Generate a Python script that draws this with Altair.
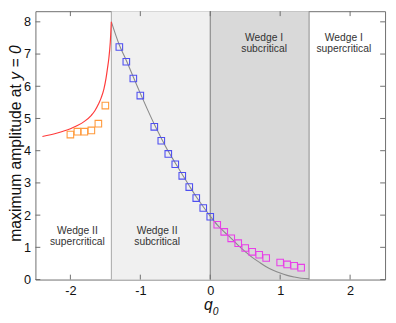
import altair as alt
import pandas as pd

# ---------------- data ----------------
orange_q = [-2.0, -1.9, -1.8, -1.7, -1.6, -1.5]
orange_a = [4.50, 4.59, 4.59, 4.63, 4.84, 5.40]

blue_q = [-1.3, -1.2, -1.1, -1.0, -0.8, -0.7, -0.6, -0.5, -0.4, -0.3, -0.2, -0.1, 0.0]
blue_a = [7.22, 6.76, 6.24, 5.71, 4.74, 4.31, 3.90, 3.58, 3.22, 2.87, 2.53, 2.22, 1.95]

magenta_q = [0.1, 0.2, 0.3, 0.4, 0.5, 0.6, 0.7, 0.8, 1.0, 1.1, 1.2, 1.3]
magenta_a = [1.70, 1.48, 1.28, 1.13, 0.98, 0.86, 0.77, 0.67, 0.53, 0.47, 0.43, 0.37]

red_q = [-2.4, -2.2, -2.0, -1.9, -1.8, -1.7, -1.65, -1.6, -1.56, -1.52, -1.49, -1.47, -1.45, -1.43, -1.414]
red_a = [4.44, 4.54, 4.68, 4.78, 4.91, 5.10, 5.24, 5.44, 5.64, 5.92, 6.25, 6.55, 6.87, 7.35, 8.0]

gray_q = [-1.414, -1.3, -1.2, -1.1, -1.0, -0.9, -0.8, -0.7, -0.6, -0.5, -0.4, -0.3, -0.2, -0.1, 0.0,
          0.1, 0.2, 0.3, 0.4, 0.5, 0.6, 0.7, 0.8, 0.9, 1.0, 1.1, 1.2, 1.3, 1.414]
gray_a = [8.0, 7.28, 6.80, 6.29, 5.78, 5.29, 4.82, 4.39, 3.98, 3.62, 3.26, 2.91, 2.57, 2.26, 1.97,
          1.70, 1.48, 1.28, 1.06, 0.87, 0.69, 0.54, 0.40, 0.29, 0.20, 0.13, 0.08, 0.04, 0.02]

region_start = [-1.414, 0.0]
region_end = [0.0, 1.414]
region_fill = ["#f0f0f0", "#d9d9d9"]

boundary_q = [-1.414, 0.0, 1.414]
boundary_color = ["#a6a6a6", "#7a7a7a", "#8c8c8c"]

label_text = ["Wedge II\nsupercritical", "Wedge II\nsubcritical", "Wedge I\nsubcritical", "Wedge I\nsupercritical"]
label_q = [-1.9, -0.76, 0.77, 1.91]
label_a = [1.51, 1.51, 7.50, 7.50]

x_ticks = [-2, -1, 0, 1, 2]
y_ticks = [0, 1, 2, 3, 4, 5, 6, 7, 8]

# ---------------- layout ----------------
W, H = 357, 274
FONT = "Liberation Sans"
TICK_COLOR = "#6e6e6e"

xs = alt.Scale(domain=[-2.5, 2.5], nice=False, zero=False)
ys = alt.Scale(domain=[0, 8.33], nice=False, zero=False)

x_axis = alt.Axis(values=x_ticks, title=None, grid=False, domain=False, ticks=False, tickSize=0,
                  labelPadding=5, labelFont=FONT, labelFontSize=13, labelColor="#111",
                  labelOverlap=False, labelExpr="'' + datum.value")
y_axis = alt.Axis(values=y_ticks, title=None, grid=False, domain=False, ticks=False, tickSize=0,
                  labelPadding=5, labelFont=FONT, labelFontSize=13, labelColor="#111",
                  labelOverlap=False, labelExpr="'' + datum.value")


def X(f):
    return alt.X(f, scale=xs, axis=x_axis)


def Y(f):
    return alt.Y(f, scale=ys, axis=y_axis)


regions = pd.DataFrame({"q0": region_start, "q1": region_end, "fill": region_fill,
                        "a0": [0, 0], "a1": [8.33, 8.33]})
bounds = pd.DataFrame({"q": boundary_q, "c": boundary_color})
red = pd.DataFrame({"q": red_q, "a": red_a})
gray = pd.DataFrame({"q": gray_q, "a": gray_a})
orange = pd.DataFrame({"q": orange_q, "a": orange_a})
blue = pd.DataFrame({"q": blue_q, "a": blue_a})
magenta = pd.DataFrame({"q": magenta_q, "a": magenta_a})
labels = pd.DataFrame({"q": label_q, "a": label_a, "t": label_text})
xt = pd.DataFrame({"q": x_ticks})
yt = pd.DataFrame({"a": y_ticks})
one = pd.DataFrame({"k": [0]})

rect = alt.Chart(regions).mark_rect().encode(
    x=X("q0:Q"), x2="q1:Q", y=Y("a0:Q"), y2="a1:Q",
    color=alt.Color("fill:N", scale=None),
)

brules = alt.Chart(bounds).mark_rule(strokeWidth=1).encode(
    x=X("q:Q"), color=alt.Color("c:N", scale=None)
)

red_line = alt.Chart(red).mark_line(color="#ff3b3b", strokeWidth=1.2, interpolate="monotone").encode(
    x=X("q:Q"), y=Y("a:Q")
)
gray_line = alt.Chart(gray).mark_line(color="#8a8a8a", strokeWidth=1.1, interpolate="monotone").encode(
    x=X("q:Q"), y=Y("a:Q")
)


def squares(df, col):
    return alt.Chart(df).mark_point(shape="square", filled=False, size=45, strokeWidth=1.1,
                                    color=col, opacity=1).encode(x=X("q:Q"), y=Y("a:Q"))


texts = alt.Chart(labels).mark_text(font=FONT, fontSize=10.5, color="#333", lineBreak="\n",
                                    lineHeight=11, baseline="middle", align="center").encode(
    x=X("q:Q"), y=Y("a:Q"), text="t:N"
)

tick_bottom = alt.Chart(xt).mark_rule(color=TICK_COLOR).encode(
    x=X("q:Q"), y=alt.value(H), y2=alt.value(H - 5))
tick_top = alt.Chart(xt).mark_rule(color=TICK_COLOR).encode(
    x=X("q:Q"), y=alt.value(0), y2=alt.value(5))
tick_left = alt.Chart(yt).mark_rule(color=TICK_COLOR).encode(
    y=Y("a:Q"), x=alt.value(0), x2=alt.value(5))
tick_right = alt.Chart(yt).mark_rule(color=TICK_COLOR).encode(
    y=Y("a:Q"), x=alt.value(W), x2=alt.value(W - 5))

ytitle1 = alt.Chart(one).mark_text(text="maximum amplitude at", font=FONT, fontSize=16, angle=270,
                                   align="right", baseline="alphabetic", color="#111").encode(
    x=alt.value(-15), y=alt.value(74.5))
ytitle2 = alt.Chart(one).mark_text(text="y = 0", font=FONT, fontSize=16, fontStyle="italic", angle=270,
                                   align="left", baseline="alphabetic", color="#111").encode(
    x=alt.value(-15), y=alt.value(70))
xtitle_q = alt.Chart(one).mark_text(text="q", font=FONT, fontSize=16, fontStyle="italic",
                                    align="center", baseline="alphabetic", color="#111").encode(
    x=alt.value(176.5), y=alt.value(305))
xtitle_0 = alt.Chart(one).mark_text(text="0", font=FONT, fontSize=10.5, fontStyle="italic",
                                    align="center", baseline="alphabetic", color="#111").encode(
    x=alt.value(184), y=alt.value(310.5))

chart = alt.layer(
    rect, brules, gray_line, red_line,
    squares(orange, "#ff9a3c"), squares(blue, "#4f4ff0"), squares(magenta, "#e83fe8"),
    texts, tick_bottom, tick_top, tick_left, tick_right,
    ytitle1, ytitle2, xtitle_q, xtitle_0,
).properties(
    width=W, height=H,
    autosize=alt.AutoSizeParams(type="none"),
    padding={"left": 28, "top": 0, "right": 3, "bottom": 37},
).configure_view(
    stroke=TICK_COLOR, strokeWidth=1, fill="white"
)

chart.save("out.html", embed_options={"renderer": "svg", "actions": False})
